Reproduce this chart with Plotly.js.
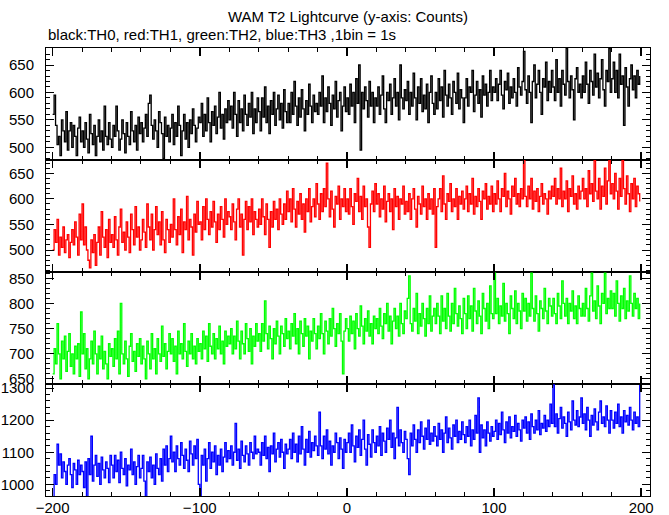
<!DOCTYPE html>
<html>
<head>
<meta charset="utf-8">
<script src="https://cdn.plot.ly/plotly-3.0.1.min.js"></script>
<style>html,body{margin:0;padding:0;background:#fff}#chart{width:669px;height:515px}</style>
</head>
<body>
<div id="chart"></div>
<script>
// time bins: 1 bin = 1 s, starting at -200 s
const tStart = -200;
const binWidth = 1;

const titleText = "WAM T2 Lightcurve (y-axis: Counts)";
const subtitleText = "black:TH0, red:TH1, green:TH2, blue:TH3 ,1bin = 1s";

const seriesNames = ["TH0", "TH1", "TH2", "TH3"];
const seriesColors = ["#000000", "#ff0000", "#00ff00", "#0000ff"];

const th0 = [
560,595,540,505,520,485,550,530,510,565,495,530,545,500,540,520,485,535,555,510,
530,500,545,515,490,560,525,505,540,485,520,550,510,530,495,575,520,505,545,515,
500,540,520,575,530,495,515,550,525,490,545,520,505,565,530,510,540,495,555,525,
545,510,535,560,520,580,595,540,515,550,530,500,565,545,525,480,555,520,540,510,
535,560,505,545,520,575,540,485,530,560,515,545,500,550,525,570,540,510,535,555,
545,580,520,560,530,590,545,510,565,540,575,525,555,600,535,560,515,570,545,585,
550,575,535,600,560,520,585,545,570,530,595,560,540,580,555,600,525,570,545,590,
565,530,590,555,610,545,575,525,585,560,600,540,570,595,550,580,535,605,565,545,
580,545,600,560,620,575,540,590,555,605,570,530,585,560,615,575,545,595,565,580,
560,600,575,630,545,590,565,610,580,540,595,570,620,555,585,600,530,575,610,565,
590,560,615,575,600,545,625,580,650,495,600,570,610,585,555,620,575,600,545,590,
575,610,560,595,630,570,545,600,585,615,560,590,625,575,600,550,650,590,570,605,
585,620,560,600,575,635,590,550,610,580,625,565,595,570,615,545,600,630,580,560,
600,570,625,585,610,555,640,595,575,615,590,560,620,600,580,635,570,605,590,545,
590,625,575,610,600,640,565,595,620,580,605,555,630,595,615,575,600,640,585,610,
600,625,585,615,640,595,570,620,605,635,580,610,590,625,600,575,645,610,595,620,
675,605,580,630,600,545,620,650,590,615,640,600,560,625,610,655,585,620,600,640,
610,585,660,600,625,575,640,615,595,680,620,590,630,605,550,625,645,600,615,590,
630,600,655,615,580,640,620,595,670,610,635,590,625,660,605,575,640,620,680,600,
625,655,600,640,590,670,615,630,540,645,610,575,625,650,605,630,590,640,615,630
];

const th1 = [
500,540,515,560,490,525,505,545,495,520,530,485,515,540,510,555,525,490,570,520,
590,510,545,500,480,465,520,495,530,470,515,545,490,575,525,505,540,485,560,515,
530,505,565,520,490,545,580,515,535,500,555,525,495,570,540,510,585,525,545,500,
520,560,535,505,590,545,520,570,500,540,585,530,555,510,575,520,495,560,540,515,
550,525,600,540,510,565,530,580,495,555,540,605,520,560,545,490,570,535,595,550,
555,520,585,540,600,560,530,575,545,595,555,515,570,540,585,560,525,600,550,575,
565,540,590,555,520,580,600,545,570,490,560,595,540,585,555,600,530,575,560,545,
580,550,600,565,530,590,560,505,575,545,595,560,580,540,600,570,550,590,560,615,
575,600,555,620,580,545,595,570,610,560,590,535,600,575,620,555,585,600,565,630,
590,560,610,575,620,585,670,600,565,615,580,545,605,590,625,560,600,585,620,575,
600,570,620,585,550,610,595,640,575,605,560,625,585,600,545,505,590,615,575,630,
590,610,565,600,580,625,555,595,610,575,600,540,620,585,605,560,600,590,625,570,
595,575,610,560,600,620,580,545,605,590,570,625,585,600,560,610,580,600,570,620,
505,585,600,620,575,645,590,560,610,595,630,575,600,585,620,560,605,590,615,580,
600,625,575,610,590,640,570,605,585,620,595,560,615,600,630,580,605,590,625,575,
610,590,635,600,575,620,605,650,585,615,600,570,625,605,640,590,610,585,620,600,
675,605,585,625,600,640,580,615,595,620,575,605,630,590,610,600,570,615,600,625,
605,640,590,620,600,660,585,615,600,635,575,620,605,645,590,610,580,625,600,615,
640,600,620,585,655,610,630,595,675,615,600,640,580,625,605,660,590,635,675,610,
630,600,650,615,580,640,605,675,620,590,645,610,575,630,600,640,585,625,610,595
];

const th2 = [
660,710,680,760,700,650,725,690,735,665,705,740,675,700,660,715,690,720,655,783,
700,740,670,710,650,690,725,680,745,700,660,715,690,735,670,705,680,650,720,695,
710,675,730,690,745,660,800,700,680,725,690,655,715,740,685,705,665,720,695,730,
680,715,690,650,725,700,670,740,690,710,660,730,700,685,755,695,720,670,705,740,
700,730,685,715,660,745,700,720,690,760,705,675,725,700,740,690,715,680,730,705,
720,690,745,710,735,685,760,715,700,740,690,730,710,755,700,725,680,745,715,735,
720,750,700,735,710,765,725,690,745,720,700,760,730,705,750,680,735,715,760,725,
740,705,760,725,805,740,710,755,730,690,750,720,765,735,700,755,740,715,770,730,
745,710,760,735,780,720,750,700,765,740,715,770,735,755,690,745,725,770,740,710,
755,730,780,740,700,765,745,720,770,735,790,750,715,760,740,780,725,660,745,770,
750,725,775,740,765,710,780,750,735,795,755,720,770,745,785,735,760,720,775,750,
770,740,790,755,730,780,760,800,745,775,720,765,790,750,775,735,800,760,740,785,
770,810,855,760,745,790,765,820,740,780,755,800,770,735,790,760,815,745,775,790,
760,800,775,740,815,765,790,750,820,775,745,800,760,830,780,755,795,770,740,810,
780,750,815,770,795,745,830,785,760,805,775,740,820,790,765,800,750,835,780,770,
860,780,810,760,795,775,840,765,800,780,740,815,790,770,825,760,800,785,750,820,
785,810,765,800,775,860,790,765,815,780,745,805,790,770,830,785,760,810,795,775,
810,780,760,820,795,770,845,800,775,810,760,800,785,825,770,795,760,815,790,775,
800,775,830,790,765,815,860,785,805,770,835,795,760,820,800,860,780,810,790,825,
790,820,775,845,800,765,815,790,830,770,805,785,855,800,775,820,790,810,770,800
];

const th3 = [
960,1030,1000,1125,1060,1095,1020,1070,1040,1000,1060,1080,1030,990,1065,1045,1000,1075,1030,1060,
1040,990,1070,960,1080,1030,1150,1010,1060,1090,1025,1065,1000,1085,1045,1020,1070,1050,1005,1090,
1060,1020,1090,1040,1075,1005,1100,1050,1030,1080,995,1060,1045,1110,1030,1070,1000,1055,1090,1020,
1050,1090,1010,960,1070,1040,1085,1020,1060,1000,1095,1050,1030,1080,1010,1110,1060,1120,1040,1080,
1150,1070,1100,1040,1120,1080,1060,1130,1090,1050,1110,1075,1040,1135,1095,1060,1120,1080,1140,1000,
960,1090,1060,1110,1010,1080,1130,1050,1100,1070,1120,1030,1090,1060,1110,1040,1085,1130,1070,1105,
1080,1120,1060,1100,1190,1075,1110,1050,1135,1090,1070,1120,1095,1060,1130,1100,1080,1150,1095,1110,
1100,1060,1130,1090,1150,1080,1115,1040,1120,1095,1160,1070,1110,1130,1085,1140,1100,1050,1125,1095,
1110,1140,1080,1160,1100,1125,1070,1150,1095,1180,1110,1060,1140,1100,1165,1085,1130,1105,1150,1120,
1090,1225,1120,1080,1150,1110,1170,1095,1135,1060,1120,1100,1160,1130,1080,1145,1110,1050,1140,1100,
1130,1160,1100,1185,1120,1070,1150,1115,1170,1090,1140,1200,1110,1060,1155,1125,1085,1170,1130,1100,
1150,1120,1180,1090,1160,1135,1100,1175,1140,1200,1115,1160,1080,1145,1240,1120,1170,1130,1100,1165,
1140,1080,1030,1160,1120,1185,1140,1100,1170,1130,1195,1150,1110,1175,1140,1200,1125,1160,1135,1180,
1150,1120,1190,1140,1170,1100,1160,1210,1130,1175,1145,1110,1185,1150,1200,1130,1165,1140,1195,1155,
1130,1180,1150,1200,1120,1170,1140,1215,1160,1270,1100,1185,1145,1170,1120,1195,1160,1135,1180,1150,
1165,1200,1140,1190,1155,1225,1170,1130,1195,1160,1210,1145,1180,1165,1215,1150,1190,1170,1135,1200,
1175,1210,1160,1195,1140,1220,1180,1160,1200,1170,1230,1155,1190,1175,1215,1165,1200,1180,1250,1190,
1310,1180,1220,1160,1205,1240,1175,1210,1190,1150,1225,1195,1170,1260,1200,1185,1230,1180,1210,1270,
1190,1220,1170,1240,1200,1150,1215,1185,1235,1195,1170,1225,1260,1190,1210,1180,1245,1200,1160,1230,
1200,1175,1225,1190,1250,1180,1210,1160,1230,1195,1215,1185,1240,1200,1170,1225,1190,1210,1180,1310
];

const seriesValues = [th0, th1, th2, th3];
const yRanges = [[477, 681], [457, 676], [640, 862.5], [963.5, 1313]];
const yDticks = [50, 50, 50, 100];
const yMinorDticks = [10, 10, 10, 20];
const xRange = [-204.5, 206];

const time = th0.map((_, i) => tStart + i * binWidth);

const FONT = "Liberation Sans, Arial, Helvetica, sans-serif";
const traces = seriesValues.map((vals, i) => ({
  type: "scatter",
  mode: "lines",
  x: time,
  y: vals,
  name: seriesNames[i],
  line: {color: seriesColors[i], width: 1.3, shape: "hv"},
  xaxis: i === 0 ? "x" : "x" + (i + 1),
  yaxis: i === 0 ? "y" : "y" + (i + 1),
  hoverinfo: "x+y"
}));

const layout = {
  width: 669, height: 515,
  margin: {l: 46, r: 19, t: 48, b: 19, pad: 0},
  paper_bgcolor: "#fff", plot_bgcolor: "#fff",
  showlegend: false,
  font: {family: FONT, size: 15, color: "#000"},
  title: {text: titleText, x: 0.5, xref: "paper", xanchor: "center",
          y: 1 - 17 / 515, yref: "container", yanchor: "middle",
          font: {family: FONT, size: 15, color: "#000"}},
  annotations: [{
    text: subtitleText, xref: "paper", yref: "paper", x: 0, y: 1 + 13 / 448,
    xanchor: "left", yanchor: "middle", showarrow: false,
    font: {family: FONT, size: 15, color: "#000"}
  }]
};

for (let i = 0; i < 4; i++) {
  const sfx = i === 0 ? "" : String(i + 1);
  const top = 1 - i * 0.25;
  layout["xaxis" + sfx] = {
    domain: [0, 1], anchor: "y" + sfx, range: xRange,
    showgrid: false, zeroline: false,
    showline: true, linecolor: "#000", linewidth: 1, mirror: "allticks",
    ticks: "inside", ticklen: 8, tickwidth: 1.5, tickcolor: "#000",
    dtick: 100, tick0: 0,
    minor: {dtick: 20, tick0: 0, ticks: "inside", ticklen: 4, tickwidth: 1, tickcolor: "#000", showgrid: false},
    showticklabels: i === 3,
    tickfont: {family: FONT, size: 15, color: "#000"},
    ticklabelstandoff: -2
  };
  layout["yaxis" + sfx] = {
    domain: [top - 0.25, top], anchor: "x" + sfx, range: yRanges[i],
    showgrid: false, zeroline: false,
    showline: true, linecolor: "#000", linewidth: 1, mirror: "allticks",
    ticks: "inside", ticklen: 8, tickwidth: 1, tickcolor: "#000",
    dtick: yDticks[i], tick0: 0,
    minor: {dtick: yMinorDticks[i], tick0: 0, ticks: "inside", ticklen: 4, tickwidth: 1, tickcolor: "#000", showgrid: false},
    tickfont: {family: FONT, size: 15, color: "#000"},
    ticklabelstandoff: 8
  };
}

Plotly.newPlot("chart", traces, layout, {staticPlot: true, displayModeBar: false});
</script>
</body>
</html>
